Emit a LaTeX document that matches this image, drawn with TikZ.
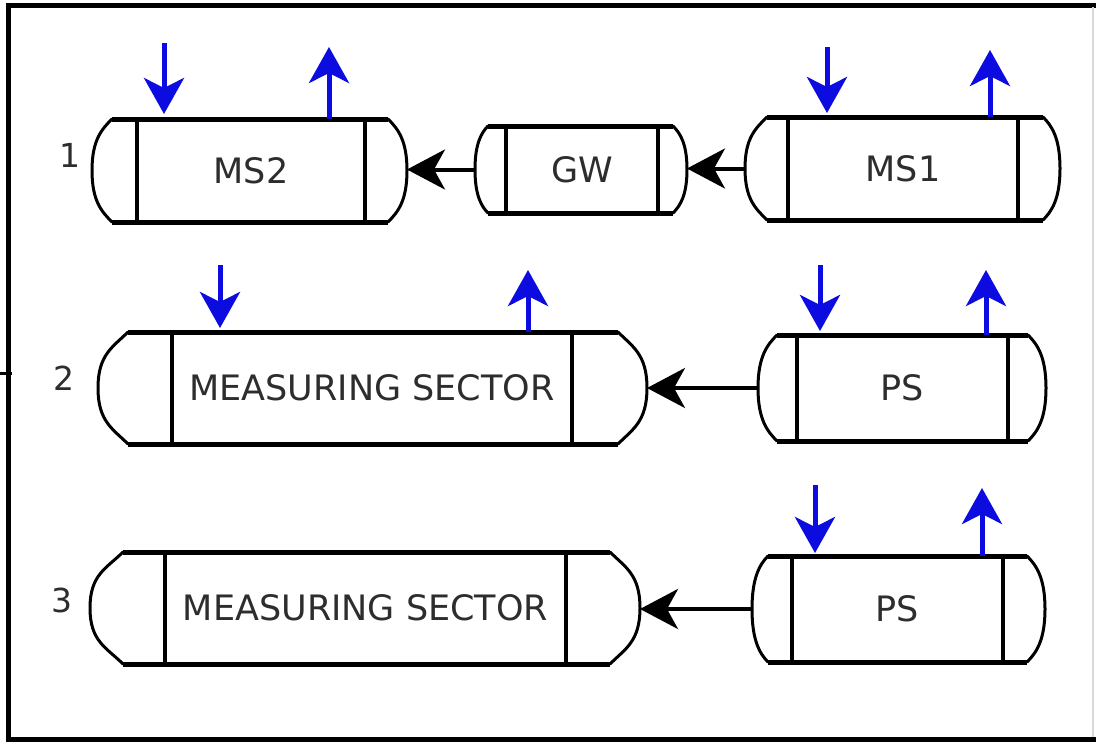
\documentclass[tikz,border=0pt]{standalone}
\usepackage{fontspec}
\setmainfont{DejaVu Sans}
\usetikzlibrary{arrows.meta}
\definecolor{flowblue}{RGB}{12,12,225}
\definecolor{txtgray}{RGB}{45,45,45}
\tikzset{
  vbox/.style={draw=none, inner sep=0pt, outer sep=0pt},
  vline/.style={line width=5pt},
  vinner/.style={line width=4pt},
  vcap/.style={line width=3pt, line cap=round, line join=round},
  vtext/.style={inner sep=0pt, text=txtgray, font=\fontsize{35}{40}\selectfont},
  rownum/.style={inner sep=0pt, text=txtgray, font=\fontsize{33}{38}\selectfont},
  flowarrow/.style={line width=4pt, -{Stealth[length=38pt, width=40pt, inset=11pt]}},
  bluearrow/.style={flowblue, line width=5pt, -{Stealth[length=36pt, width=40pt, inset=10pt]}},
  frame/.style={line width=5pt}
}
% #1 name, #2 left bulge x, #3 left corner x, #4 left inner x,
% #5 right inner x, #6 right corner x, #7 right bulge x, #8 top y, #9 bottom y
\newcommand\vessel[9]{%
  \pgfmathsetmacro\vmid{(#8+#9)/2}%
  \pgfmathsetmacro\vw{#7-#2}%
  \pgfmathsetmacro\vh{#9-#8}%
  \pgfmathsetmacro\vcx{(#2+#7)/2}%
  \pgfmathsetmacro\vtx{(#4+#5)/2}%
  \pgfmathsetmacro\lax{#3-0.5*(#3-#2)}%
  \pgfmathsetmacro\lay{#8+0.5*(#3-#2)}%
  \pgfmathsetmacro\lby{#9-0.5*(#3-#2)}%
  \pgfmathsetmacro\rax{#6+0.5*(#7-#6)}%
  \pgfmathsetmacro\ray{#8+0.5*(#7-#6)}%
  \pgfmathsetmacro\rby{#9-0.5*(#7-#6)}%
  \pgfmathsetmacro\cu{\vmid-0.3*\vh}%
  \pgfmathsetmacro\cd{\vmid+0.3*\vh}%
  \node[vbox, minimum width=\vw pt, minimum height=\vh pt] (#1) at (\vcx,\vmid) {};
  \coordinate (#1-tc) at (\vtx,\vmid);
  \draw[vline] (#3,#8) -- (#6,#8);
  \draw[vline] (#3,#9) -- (#6,#9);
  \draw[vinner] (#4,#8) -- (#4,#9);
  \draw[vinner] (#5,#8) -- (#5,#9);
  \draw[vcap] (#3,#8) .. controls (\lax,\lay) and (#2,\cu) .. (#2,\vmid)
              .. controls (#2,\cd) and (\lax,\lby) .. (#3,#9);
  \draw[vcap] (#6,#8) .. controls (\rax,\ray) and (#7,\cu) .. (#7,\vmid)
              .. controls (#7,\cd) and (\rax,\rby) .. (#6,#9);
}
\begin{document}
\begin{tikzpicture}[x=1pt,y=-1pt]
\useasboundingbox (0,0) rectangle (1096,742);
\fill[white] (0,0) rectangle (1096,742);
% frame
\draw[frame] (1096,5) -- (8,5) -- (8,739) -- (1096,739);
\draw[black!15, line width=1.5pt] (1093,7) -- (1093,737);
\draw[line width=3pt] (0,373) -- (12,373);

% vessels
\vessel{ms2}{92}{112}{137}{365}{388}{407}{119}{222}
\vessel{gw}{475}{488}{506}{658}{673}{687}{126}{213}
\vessel{ms1}{745}{767}{788}{1018}{1043}{1060}{117}{220}
\vessel{msa}{98}{128}{172}{572}{618}{647}{332}{444}
\vessel{psa}{758}{777}{797}{1008}{1028}{1046}{335}{441}
\vessel{msb}{90}{123}{165}{566}{610}{640}{552}{664}
\vessel{psb}{752}{768}{792}{1003}{1027}{1045}{556}{662}

% texts
\node[vtext] (ms2t) at (ms2-tc) {MS2};
\node[vtext] (gwt) at (gw-tc) {GW};
\node[vtext] (ms1t) at (ms1-tc) {MS1};
\node[vtext] (msat) at (msa-tc) {MEASURING SECTOR};
\node[vtext] (psat) at (psa-tc) {PS};
\node[vtext] (msbt) at (msb-tc) {MEASURING SECTOR};
\node[vtext] (psbt) at (psb-tc) {PS};

% row numbers
\node[rownum] (n1) at (70,155) {1};
\node[rownum] (n2) at (64,378) {2};
\node[rownum] (n3) at (62,600) {3};

% flow arrows
\draw[flowarrow] (ms1.west) -- (ms1.west -| gw.east);
\draw[flowarrow] (gw.west) -- (gw.west -| ms2.east);
\draw[flowarrow] (psa.west) -- (psa.west -| msa.east);
\draw[flowarrow] (psb.west) -- (psb.west -| msb.east);

% blue in/out arrows
\coordinate (ms2in) at (164,43);   \coordinate (ms2inT) at (164,114);
\coordinate (ms2out) at (329,119); \coordinate (ms2outT) at (329,47);
\coordinate (ms1in) at (827,47);   \coordinate (ms1inT) at (827,113);
\coordinate (ms1out) at (990,117); \coordinate (ms1outT) at (990,50);
\coordinate (msain) at (220,265);  \coordinate (msainT) at (220,328);
\coordinate (msaout) at (528,332); \coordinate (msaoutT) at (528,270);
\coordinate (psain) at (820,265);  \coordinate (psainT) at (820,331);
\coordinate (psaout) at (986,335); \coordinate (psaoutT) at (986,270);
\coordinate (psbin) at (815,485);  \coordinate (psbinT) at (815,553);
\coordinate (psbout) at (982,556); \coordinate (psboutT) at (982,488);
\foreach \a/\b in {ms2in/ms2inT, ms2out/ms2outT, ms1in/ms1inT, ms1out/ms1outT,
                   msain/msainT, msaout/msaoutT, psain/psainT, psaout/psaoutT,
                   psbin/psbinT, psbout/psboutT}
  \draw[bluearrow] (\a) -- (\b);
\end{tikzpicture}
\end{document}
